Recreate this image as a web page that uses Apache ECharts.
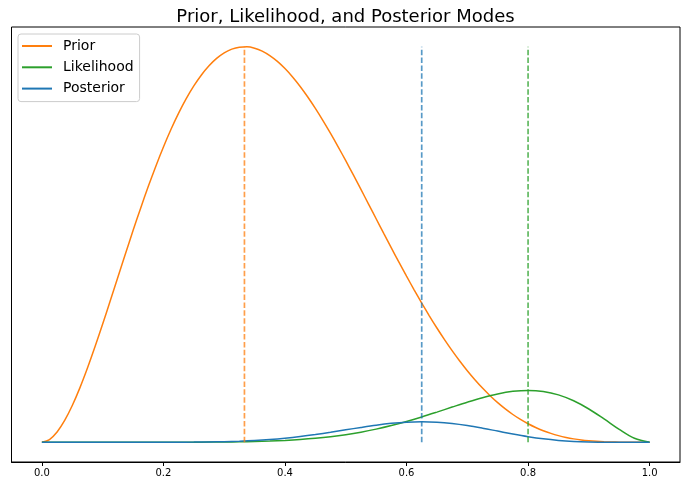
<!DOCTYPE html>
<html><head><meta charset="utf-8">
<script src="https://cdn.jsdelivr.net/npm/echarts@6/dist/echarts.min.js"></script>
<style>html,body{margin:0;padding:0;background:#fff}#c{width:691px;height:480px}</style>
</head><body><div id="c"></div>
<script>
const xsFine = [0,0.0125,0.025,0.0375,0.05,0.0625,0.075,0.0875,0.1,0.1125,0.125,0.1375,0.15,0.1625,0.175,0.1875,0.2,0.2125,0.225,0.2375,0.25,0.2625,0.275,0.2875,0.3,0.3125,0.325,0.3375,0.35,0.3625,0.375,0.3875,0.4,0.4125,0.425,0.4375,0.45,0.4625,0.475,0.4875,0.5,0.5125,0.525,0.5375,0.55,0.5625,0.575,0.5875,0.6,0.6125,0.625,0.6375,0.65,0.6625,0.675,0.6875,0.7,0.7125,0.725,0.7375,0.75,0.7625,0.775,0.7875,0.8,0.8125,0.825,0.8375,0.85,0.8625,0.875,0.8875,0.9,0.9125,0.925,0.9375,0.95,0.9625,0.975,0.9875,1];
const prior = [0,0.0156,0.0593,0.1267,0.2138,0.3168,0.4324,0.5574,0.6889,0.8244,0.9617,1.0986,1.2333,1.3641,1.4896,1.6087,1.7203,1.8235,1.9176,2.0021,2.0764,2.1404,2.1938,2.2366,2.2690,2.2906,2.3023,2.3040,2.2960,2.2790,2.2530,2.2190,2.1773,2.1285,2.0732,2.0120,1.9457,1.8747,1.7998,1.7215,1.6406,1.5577,1.4733,1.3880,1.3024,1.2171,1.1326,1.0493,0.9677,0.8881,0.8111,0.7369,0.6657,0.5980,0.5337,0.4733,0.4167,0.3642,0.3156,0.2712,0.2307,0.1942,0.1616,0.1328,0.1075,0.0857,0.0670,0.0514,0.0384,0.0279,0.0196,0.0132,0.0085,0.0051,0.0028,0.0014,0.0006,0.0002,0.00004,0.000003,0];
const xs = [0,0.025,0.05,0.075,0.1,0.125,0.15,0.175,0.2,0.225,0.25,0.275,0.3,0.325,0.35,0.375,0.4,0.425,0.45,0.475,0.5,0.525,0.55,0.575,0.6,0.625,0.65,0.675,0.7,0.725,0.75,0.775,0.8,0.825,0.85,0.875,0.9,0.925,0.95,0.975,1];
const likelihood = [0,0,0,0,0,0.000002,0.000008,0.00003,0.00007,0.00018,0.00039,0.00077,0.00145,0.00255,0.00428,0.00687,0.01062,0.01584,0.02289,0.03214,0.04395,0.05860,0.07630,0.09712,0.12093,0.14734,0.17565,0.20484,0.23347,0.25977,0.28157,0.29648,0.30199,0.29575,0.27590,0.24160,0.19371,0.13567,0.07464,0.02297,0];
const posterior = [0,0,0,0,0,0,0,0.00004,0.00013,0.00034,0.0008,0.0017,0.0033,0.0059,0.0098,0.0155,0.0231,0.0328,0.0445,0.0578,0.0721,0.0863,0.0994,0.1100,0.1170,0.1195,0.1169,0.1093,0.0973,0.0820,0.0650,0.0479,0.0325,0.0198,0.0106,0.0047,0.0016,0.0004,0.00004,0,0];
const modeNames = ['Prior','Likelihood','Posterior'];
const modes = [0.3333,0.8,0.625];
const modeLineTop = 2.3045;
const xTicks = [0,0.2,0.4,0.6,0.8,1.0];
const colors = {Prior:'#ff7f0e', Likelihood:'#2ca02c', Posterior:'#1f77b4'};

const pairs = (xv, ys) => xv.map((x,i)=>[x, ys[i]]);
const curveSeries = [['Prior',xsFine,prior,0.3],['Likelihood',xs,likelihood,0.35],['Posterior',xs,posterior,0.35]].map(([n,xv,ys,sm])=>({
  name:n, type:'line', data:pairs(xv,ys), showSymbol:false, symbol:'none', smooth:sm,
  lineStyle:{color:colors[n], width:1.5}, itemStyle:{color:colors[n]}, silent:true, animation:false
}));
const vlineSeries = modes.map((m,i)=>({
  name:modeNames[i]+' mode', type:'line', data:[[m,0],[m,modeLineTop]], symbol:'none', silent:true, animation:false,
  lineStyle:{color:colors[modeNames[i]], width:1.7, type:[5.5,2.4], opacity:0.75}
}));

const chart = echarts.init(document.getElementById('c'), null, {renderer:'canvas'});
chart.setOption({
  animation:false,
  textStyle:{fontFamily:'DejaVu Sans'},
  title:{text:'Prior, Likelihood, and Posterior Modes', left:'center', top:3,
    textStyle:{fontFamily:'DejaVu Sans', fontSize:18, fontWeight:'normal', color:'#000'}},
  legend:{data:modeNames, orient:'vertical', left:18, top:34, icon:'rect', itemWidth:30, itemHeight:2,
    itemGap:5.3, padding:[4,6,5,4], borderColor:'#cccccc', borderWidth:1, borderRadius:3,
    backgroundColor:'rgba(255,255,255,0.8)',
    textStyle:{fontFamily:'DejaVu Sans', fontSize:14, color:'#000', lineHeight:16, padding:[0,0,0,6]}},
  grid:{left:11.5, right:11, top:27, bottom:18, show:true, borderColor:'#000', borderWidth:1, backgroundColor:'transparent'},
  xAxis:{type:'value', min:-0.05, max:1.05, position:'bottom',
    axisLine:{show:true, onZero:false, lineStyle:{color:'#000', width:1}},
    splitLine:{show:false},
    axisTick:{show:true, inside:false, customValues:xTicks, length:4, lineStyle:{color:'#000', width:1}},
    axisLabel:{customValues:xTicks, formatter:v=>v.toFixed(1), fontSize:10, color:'#000', margin:6, fontFamily:'DejaVu Sans'}},
  yAxis:{type:'value', min:-0.1152, max:2.4197, show:false, splitLine:{show:false}},
  series:[...curveSeries, ...vlineSeries]
});
</script></body></html>
